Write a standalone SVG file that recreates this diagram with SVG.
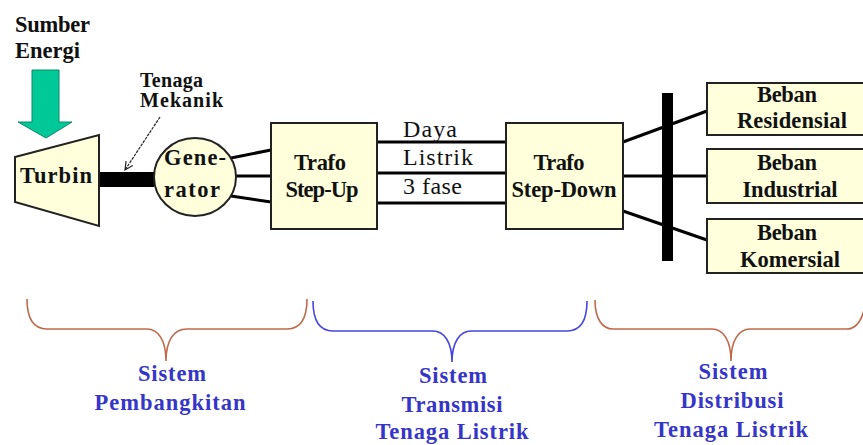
<svg xmlns="http://www.w3.org/2000/svg" width="863" height="445" viewBox="0 0 863 445">
<defs>
<style>
.t{font-family:"Liberation Serif","Times New Roman",serif;font-weight:bold;font-size:22.5px;fill:#111;}
.r{font-family:"Liberation Serif","Times New Roman",serif;font-size:24px;fill:#111;}
.b{font-family:"Liberation Serif","Times New Roman",serif;font-weight:bold;font-size:22.5px;fill:#3535c8;}
.box{fill:#ffffdc;stroke:#222;stroke-width:2;}
.ln{stroke:#000;stroke-width:3;fill:none;}
.br{fill:none;stroke-width:1.6;}
</style>
<marker id="ah" markerWidth="10" markerHeight="10" refX="9" refY="5" orient="auto" markerUnits="userSpaceOnUse">
<path d="M1,1 L9,5 L1,9" fill="none" stroke="#222" stroke-width="1.2"/>
</marker>
</defs>
<rect width="863" height="445" fill="#fff"/>

<g id="connectors">
<rect x="100" y="172" width="54" height="15" fill="#000"/>
<line x1="160" y1="117" x2="125" y2="170" stroke="#222" stroke-width="1.2" stroke-dasharray="3,1" marker-end="url(#ah)"/>
<line class="ln" x1="231" y1="158" x2="271" y2="150"/>
<line class="ln" x1="236" y1="176" x2="271" y2="176"/>
<line class="ln" x1="231" y1="196" x2="271" y2="202"/>
<line class="ln" x1="377" y1="142" x2="506" y2="142"/>
<line class="ln" x1="377" y1="173" x2="506" y2="173"/>
<line class="ln" x1="377" y1="203" x2="506" y2="203"/>
<line class="ln" x1="623" y1="142" x2="707" y2="111"/>
<line class="ln" x1="623" y1="176" x2="707" y2="176"/>
<line class="ln" x1="623" y1="211" x2="707" y2="240"/>
<rect x="662" y="93" width="11" height="168" fill="#000"/>
</g>

<g id="sumber-energi">
<text class="t" x="15" y="32" textLength="75" lengthAdjust="spacing">Sumber</text>
<text class="t" x="15" y="58" textLength="65" lengthAdjust="spacing">Energi</text>
<polygon points="32,70 59,70 59,122 72,122 46,138 18,122 32,122" fill="#00c896" stroke="#0a8a68" stroke-width="1"/>
</g>

<g id="tenaga-mekanik">
<text class="t" x="140" y="87" textLength="63" lengthAdjust="spacing" style="font-size:20px">Tenaga</text>
<text class="t" x="140" y="107" textLength="83" lengthAdjust="spacing" style="font-size:20px">Mekanik</text>
</g>

<g id="turbin">
<polygon class="box" points="15,157 99,135 99,226 15,202"/>
<text class="t" x="20" y="183" textLength="72" lengthAdjust="spacing">Turbin</text>
</g>

<g id="generator">
<ellipse class="box" cx="195" cy="177" rx="41" ry="39"/>
<text class="t" x="195" y="165" text-anchor="middle" textLength="62" lengthAdjust="spacing">Gene-</text>
<text class="t" x="192" y="197" text-anchor="middle" textLength="56" lengthAdjust="spacing">rator</text>
</g>

<g id="trafo-step-up">
<rect class="box" x="271" y="123" width="106" height="106"/>
<text class="t" x="320" y="170" text-anchor="middle" textLength="52" lengthAdjust="spacing">Trafo</text>
<text class="t" x="322" y="197" text-anchor="middle" textLength="73" lengthAdjust="spacing">Step-Up</text>
</g>

<g id="daya-listrik">
<text class="r" x="403" y="137" textLength="54" lengthAdjust="spacing">Daya</text>
<text class="r" x="403" y="165" textLength="70" lengthAdjust="spacing">Listrik</text>
<text class="r" x="403" y="194" textLength="59" lengthAdjust="spacing">3 fase</text>
</g>

<g id="trafo-step-down">
<rect class="box" x="506" y="123" width="117" height="106"/>
<text class="t" x="559" y="170" text-anchor="middle" textLength="51" lengthAdjust="spacing">Trafo</text>
<text class="t" x="564" y="197" text-anchor="middle" textLength="105" lengthAdjust="spacing">Step-Down</text>
</g>

<g id="beban-residensial">
<rect class="box" x="707" y="83" width="170" height="52"/>
<text class="t" x="787" y="102" text-anchor="middle" textLength="60" lengthAdjust="spacing">Beban</text>
<text class="t" x="792" y="128" text-anchor="middle" textLength="110" lengthAdjust="spacing">Residensial</text>
</g>

<g id="beban-industrial">
<rect class="box" x="707" y="149" width="170" height="54"/>
<text class="t" x="787" y="170" text-anchor="middle" textLength="60" lengthAdjust="spacing">Beban</text>
<text class="t" x="790" y="197" text-anchor="middle" textLength="95" lengthAdjust="spacing">Industrial</text>
</g>

<g id="beban-komersial">
<rect class="box" x="707" y="219" width="170" height="54"/>
<text class="t" x="787" y="240" text-anchor="middle" textLength="60" lengthAdjust="spacing">Beban</text>
<text class="t" x="790" y="267" text-anchor="middle" textLength="100" lengthAdjust="spacing">Komersial</text>
</g>

<g id="sistem-pembangkitan">
<path class="br" stroke="#c0694a" d="M27,299 C27,320 35,329 47,329 L147,329 C158,329 166,340 166,361 C166,340 174,329 187,329 L287,329 C299,329 307,320 307,299"/>
<text class="b" x="172" y="381" text-anchor="middle" textLength="68" lengthAdjust="spacing">Sistem</text>
<text class="b" x="170" y="410" text-anchor="middle" textLength="151" lengthAdjust="spacing">Pembangkitan</text>
</g>

<g id="sistem-transmisi">
<path class="br" stroke="#4646dc" d="M313,301 C313,322 321,331 333,331 L433,331 C444,331 452,342 452,362 C452,342 460,331 471,331 L567,331 C579,331 587,322 587,301"/>
<text class="b" x="453" y="383" text-anchor="middle" textLength="68" lengthAdjust="spacing">Sistem</text>
<text class="b" x="452" y="412" text-anchor="middle" textLength="101" lengthAdjust="spacing">Transmisi</text>
<text class="b" x="452" y="439" text-anchor="middle" textLength="153" lengthAdjust="spacing">Tenaga Listrik</text>
</g>

<g id="sistem-distribusi">
<path class="br" stroke="#c0694a" d="M595,300 C595,320 603,329 613,329 L712,329 C723,329 731,340 731,361 C731,340 739,329 750,329 L847,329 C856,329 864,320 866,298"/>
<text class="b" x="733" y="379" text-anchor="middle" textLength="69" lengthAdjust="spacing">Sistem</text>
<text class="b" x="732" y="408" text-anchor="middle" textLength="103" lengthAdjust="spacing">Distribusi</text>
<text class="b" x="731" y="437" text-anchor="middle" textLength="154" lengthAdjust="spacing">Tenaga Listrik</text>
</g>
</svg>
